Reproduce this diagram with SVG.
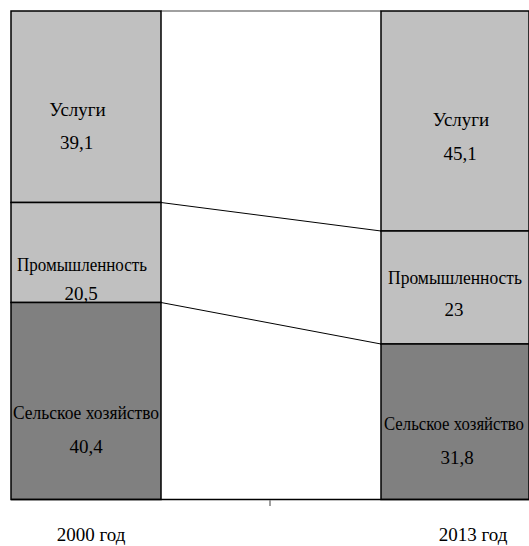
<svg xmlns="http://www.w3.org/2000/svg" width="529" height="546" viewBox="0 0 529 546">
<style>
.l{fill:#c0c0c0;stroke:#000;stroke-width:1.5}
.d{fill:#808080;stroke:#000;stroke-width:1.5}
.c{stroke:#000;stroke-width:1;fill:none}
.s{text-anchor:start}
</style>
<rect x="0" y="0" width="529" height="546" fill="#fff"/>
<line x1="161" y1="11" x2="381" y2="11" stroke="#808080" stroke-width="1.5"/>
<g id="connectors">
<line class="c" x1="161" y1="202.5" x2="381" y2="231"/>
<line class="c" x1="161" y1="302.5" x2="381" y2="344"/>
</g>
<g font-family="Liberation Serif, Times New Roman, serif" font-size="19" fill="#000" text-anchor="middle">
<g id="left-services"><rect class="l" x="11" y="11" width="150" height="191.5"/><text x="77.5" y="116">Услуги</text><text x="76.5" y="149">39,1</text></g>
<g id="left-industry"><rect class="l" x="11" y="202.5" width="150" height="100"/><text class="s" x="17" y="271" textLength="130" lengthAdjust="spacingAndGlyphs">Промышленность</text><text x="81" y="300">20,5</text></g>
<g id="left-agri"><rect class="d" x="11" y="302.5" width="150" height="197"/><text class="s" x="13" y="419" textLength="146" lengthAdjust="spacingAndGlyphs">Сельское хозяйство</text><text x="86" y="453">40,4</text></g>
<g id="right-services"><rect class="l" x="381" y="11" width="148" height="220"/><text x="461" y="126">Услуги</text><text x="460" y="160">45,1</text></g>
<g id="right-industry"><rect class="l" x="381" y="231" width="148" height="113"/><text class="s" x="388" y="284" textLength="134" lengthAdjust="spacingAndGlyphs">Промышленность</text><text x="454" y="316">23</text></g>
<g id="right-agri"><rect class="d" x="381" y="344" width="148" height="155.5"/><text class="s" x="384" y="430" textLength="140" lengthAdjust="spacingAndGlyphs">Сельское хозяйство</text><text x="457" y="464">31,8</text></g>
<line x1="11" y1="499.5" x2="529" y2="499.5" stroke="#000" stroke-width="1.5"/>
<line x1="270" y1="500" x2="270" y2="506" stroke="#808080" stroke-width="1.5"/>
<g id="axis-labels"><text x="91" y="541">2000 год</text><text x="473" y="541">2013 год</text></g>
</g>
</svg>
